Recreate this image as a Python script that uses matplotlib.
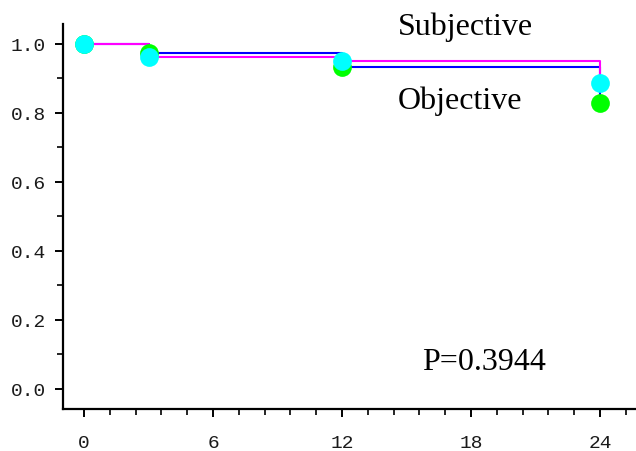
import matplotlib
matplotlib.use("Agg")
import matplotlib.pyplot as plt
from matplotlib.ticker import MultipleLocator, FormatStrFormatter

# months of follow-up and survival estimates
months = [0, 3, 12, 24]
objective = [1.0, 0.975, 0.934, 0.828]
subjective = [1.0, 0.963, 0.950, 0.886]
p_text = "P=0.3944"

fig = plt.figure(figsize=(6.36, 4.52), dpi=100)
ax = fig.add_axes([0.099, 0.093, 0.901, 0.852])

ax.step(months, objective, where="post", color="#0000ff", lw=1.5, zorder=2)
ax.step(months, subjective, where="post", color="#ff00ff", lw=1.5, zorder=3)
ax.plot(months, objective, "o", color="#00ff00", ms=13.5, mec="none", zorder=4)
ax.plot(months, subjective, "o", color="#00ffff", ms=13.5, mec="none", zorder=5)

serif = dict(family="Liberation Serif", fontsize=23, color="black")
ax.text(465, 27, "Subjective", ha="center", va="center",
        transform=None, **serif)
ax.text(460, 101, "Objective", ha="center", va="center", transform=None, **serif)
ax.text(484, 363, p_text, ha="center", va="center", transform=None, **serif)

ax.set_xlim(-0.98, 25.67)
ax.set_ylim(-0.058, 1.058)
ax.xaxis.set_major_locator(MultipleLocator(6))
ax.xaxis.set_minor_locator(MultipleLocator(1.2))
ax.yaxis.set_major_locator(MultipleLocator(0.2))
ax.yaxis.set_minor_locator(MultipleLocator(0.1))
ax.yaxis.set_major_formatter(FormatStrFormatter("%.1f"))

for s in ["top", "right"]:
    ax.spines[s].set_visible(False)
for s in ["left", "bottom"]:
    ax.spines[s].set_linewidth(1.6)

ax.tick_params(which="major", length=6, width=1.4, labelsize=14,
               labelcolor="#1a1a1a")
ax.tick_params(which="minor", length=4, width=1.2)
ax.tick_params(axis="y", which="major", pad=6)
ax.tick_params(axis="x", which="major", pad=12)
for lab in ax.get_xticklabels() + ax.get_yticklabels():
    lab.set_family("Liberation Mono")

# pixel coords in text calls are measured from the top of the image
for t in ax.texts:
    x, y = t.get_position()
    t.set_position((x, 452 - y))

fig.savefig("out.png", dpi=100)
